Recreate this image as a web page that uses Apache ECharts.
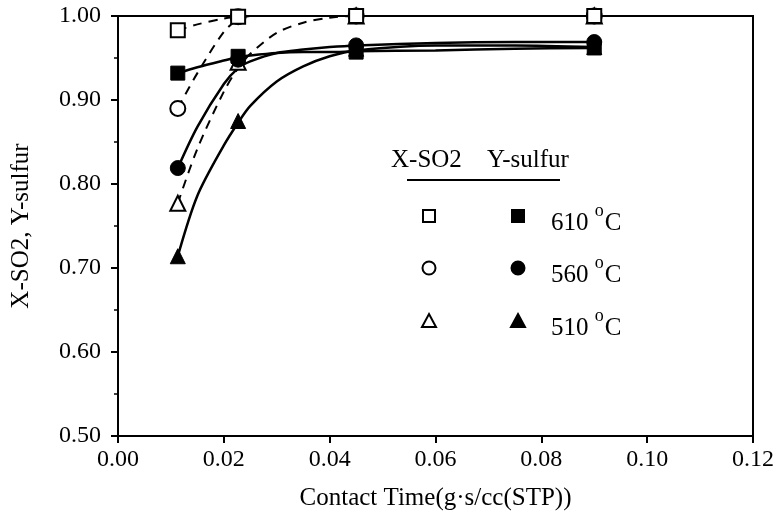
<!DOCTYPE html>
<html><head><meta charset="utf-8">
<script src="https://cdn.jsdelivr.net/npm/echarts@6/dist/echarts.min.js"></script>
<style>html,body{margin:0;padding:0;background:#fff}#c{width:777px;height:532px}</style>
</head><body><div id="c"></div>
<script>
// measured points
const contactTime = [0.0113, 0.0227, 0.045, 0.09];
const xSO2_610 = [0.983, 0.999, 1.000, 1.000];
const xSO2_560 = [0.890, 0.999, 1.000, 1.000];
const xSO2_510 = [0.777, 0.945, 1.000, 1.000];
const ySulfur_610 = [0.932, 0.952, 0.957, 0.962];
const ySulfur_560 = [0.819, 0.948, 0.965, 0.969];
const ySulfur_510 = [0.714, 0.875, 0.961, 0.963];
// fitted curves
const curveTime = [0.0113, 0.015, 0.02, 0.0227, 0.025, 0.03, 0.035, 0.04, 0.045, 0.06, 0.075, 0.09];
const fitX_610 = [0.983, 0.990, 0.997, 0.999, 1.000, 1.000, 1.000, 1.000, 1.000, 1.000, 1.000, 1.000];
const fitX_560 = [0.890, 0.932, 0.981, 0.996, 1.000, 1.000, 1.000, 1.000, 1.000, 1.000, 1.000, 1.000];
const fitX_510 = [0.777, 0.842, 0.910, 0.938, 0.955, 0.980, 0.992, 0.998, 1.000, 1.000, 1.000, 1.000];
const fitY_610 = [0.932, 0.939, 0.947, 0.951, 0.953, 0.956, 0.957, 0.957, 0.958, 0.959, 0.961, 0.962];
const fitY_560 = [0.819, 0.868, 0.919, 0.938, 0.946, 0.956, 0.960, 0.963, 0.965, 0.968, 0.969, 0.969];
const fitY_510 = [0.714, 0.786, 0.846, 0.873, 0.893, 0.922, 0.940, 0.952, 0.959, 0.965, 0.965, 0.963];
const xTicks = ['0.00','0.02','0.04','0.06','0.08','0.10','0.12'];
const yTicks = ['0.50','0.60','0.70','0.80','0.90','1.00'];
const legendTemps = ['610', '560', '510'];

const F = 'Liberation Serif';
function pairs(xs, v){ return xs.map((x,i)=>[x, v[i]]); }
function curve(vals, dashed){
  return {type:'line', data: pairs(curveTime, vals), smooth:0.3, showSymbol:false, symbol:'none',
    lineStyle:{color:'#000', width: dashed?2:2.5, type: dashed?[9,7]:'solid'}, z:2, silent:true};
}
function pts(vals, symbol, filled){
  return {type:'scatter', data: pairs(contactTime, vals), symbol,
    symbolSize: symbol==='triangle'?15:(symbol==='circle'?15:14),
    itemStyle:{color: filled?'#000':'#fff', borderColor:'#000', borderWidth: filled?1:2, opacity:1},
    z: filled?4:3};
}
const chart = echarts.init(document.getElementById('c'), null, {renderer:'canvas'});
const lx1 = 429, lx2 = 518, rows = [216, 268, 321];
const syms = ['rect','circle','triangle'];
const legendGraphics = [
  {type:'text', left:391, top:148, style:{text:'X-SO2', font:'25px "'+F+'"', fill:'#000'}},
  {type:'text', left:487, top:148, style:{text:'Y-sulfur', font:'25px "'+F+'"', fill:'#000'}},
  {type:'line', shape:{x1:407,y1:180,x2:560,y2:180}, style:{stroke:'#000', lineWidth:2}}
];
function shape(sym, cx, cy, filled){
  const st = {fill: filled?'#000':'#fff', stroke:'#000', lineWidth:2};
  if(sym==='rect') return {type:'rect', shape:{x:cx-6,y:cy-6,width:12,height:12}, style:st};
  if(sym==='circle') return {type:'circle', shape:{cx,cy,r:6.5}, style:st};
  return {type:'polygon', shape:{points:[[cx,cy-7],[cx+7,cy+6],[cx-7,cy+6]]}, style:st};
}
rows.forEach((y,i)=>{
  legendGraphics.push(shape(syms[i], lx1, y, false));
  legendGraphics.push(shape(syms[i], lx2, y, true));
  legendGraphics.push({type:'text', left:551, top:y-14, style:{
    text:'{n|'+legendTemps[i]+' }{s|o}{n|C}',
    rich:{n:{font:'25px "'+F+'"', fill:'#000', verticalAlign:'bottom'}, s:{font:'18px "'+F+'"', fill:'#000', verticalAlign:'top', padding:[0,1,16,0]}},
    fill:'#000'}});
});
chart.setOption({
  animation:false,
  backgroundColor:'#fff',
  grid:{left:118, right:24, top:16, bottom:96, show:true, borderColor:'#000', borderWidth:2, backgroundColor:'transparent'},
  xAxis:{type:'value', min:0, max:0.12, interval:0.02,
    name:'Contact Time(g·s/cc(STP))', nameLocation:'middle', nameGap:50,
    nameTextStyle:{fontFamily:F, fontSize:25, color:'#000'},
    axisLine:{lineStyle:{color:'#000', width:2}}, axisTick:{show:true, length:7, lineStyle:{color:'#000', width:2}},
    axisLabel:{fontFamily:F, fontSize:24, color:'#000', margin:12, formatter:(v)=>xTicks[Math.round(v/0.02)]},
    splitLine:{show:false}},
  yAxis:{type:'value', min:0.5, max:1.0, interval:0.1,
    name:'X-SO2, Y-sulfur', nameLocation:'middle', nameGap:84,
    nameTextStyle:{fontFamily:F, fontSize:25, color:'#000'},
    axisLine:{show:true, lineStyle:{color:'#000', width:2}}, axisTick:{show:true, length:7, lineStyle:{color:'#000', width:2}},
    minorTick:{show:true, splitNumber:2, length:4, lineStyle:{color:'#000', width:1.5}},
    axisLabel:{fontFamily:F, fontSize:24, color:'#000', margin:17, formatter:(v)=>yTicks[Math.round((v-0.5)/0.1)]},
    splitLine:{show:false}},
  series:[
    curve(fitX_610, true), curve(fitX_560, true), curve(fitX_510, true),
    curve(fitY_610, false), curve(fitY_560, false), curve(fitY_510, false),
    pts(xSO2_510, 'triangle', false), pts(xSO2_560, 'circle', false), pts(xSO2_610, 'rect', false),
    pts(ySulfur_510, 'triangle', true), pts(ySulfur_610, 'rect', true), pts(ySulfur_560, 'circle', true)
  ],
  graphic: legendGraphics
});
</script></body></html>
